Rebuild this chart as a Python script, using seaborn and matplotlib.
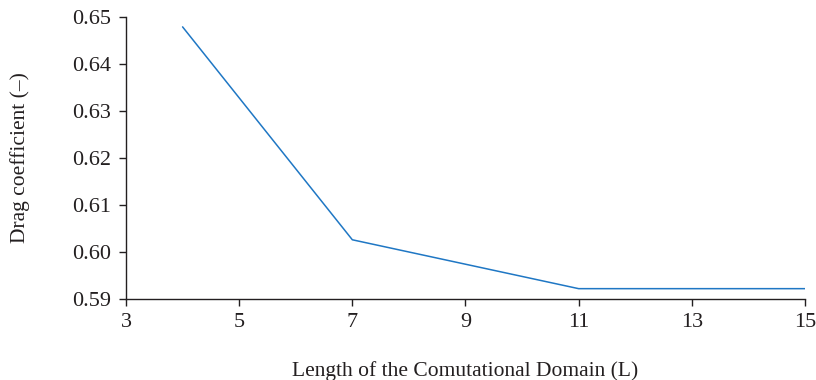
import matplotlib
matplotlib.use("Agg")
import matplotlib.pyplot as plt
import seaborn as sns
import pandas as pd

domain_length = [4, 7, 11, 15]
drag_coeff = [0.6479, 0.6026, 0.5922, 0.5922]
x_ticks = [3, 5, 7, 9, 11, 13, 15]
y_ticks = [0.59, 0.60, 0.61, 0.62, 0.63, 0.64, 0.65]

sns.set_theme(style="ticks")
plt.rcParams['font.family'] = ['Liberation Serif', 'DejaVu Serif']

df = pd.DataFrame({"L": domain_length, "Cd": drag_coeff})

fig = plt.figure(figsize=(8.16, 3.80), dpi=100)
ax = fig.add_axes([126/816, 1 - 299/380, (805-126)/816, (299-17)/380])
sns.lineplot(data=df, x="L", y="Cd", ax=ax, color="#1f77c4", linewidth=1.1)

ax.set_xlim(3, 15)
ax.set_ylim(0.59, 0.65)
ax.set_xticks(x_ticks)
ax.set_xticklabels([str(t) for t in x_ticks])
ax.set_yticks(y_ticks)
ax.set_yticklabels([f"{t:.2f}" for t in y_ticks])
ax.tick_params(axis="both", labelsize=16, colors="#231f20", length=5, width=1, direction="out")
ax.tick_params(axis="x", pad=5)
ax.tick_params(axis="y", pad=6)
for s in ["top", "right"]:
    ax.spines[s].set_visible(False)
for s in ["left", "bottom"]:
    ax.spines[s].set_color("#231f20")
    ax.spines[s].set_linewidth(1.0)

ax.set_xlabel("Length of the Comutational Domain (L)", fontsize=15.5, color="#231f20", labelpad=21)
ax.set_ylabel("Drag coefficient (\u2013)", fontsize=15.5, color="#231f20", labelpad=30)

fig.savefig("out.png", dpi=100)
